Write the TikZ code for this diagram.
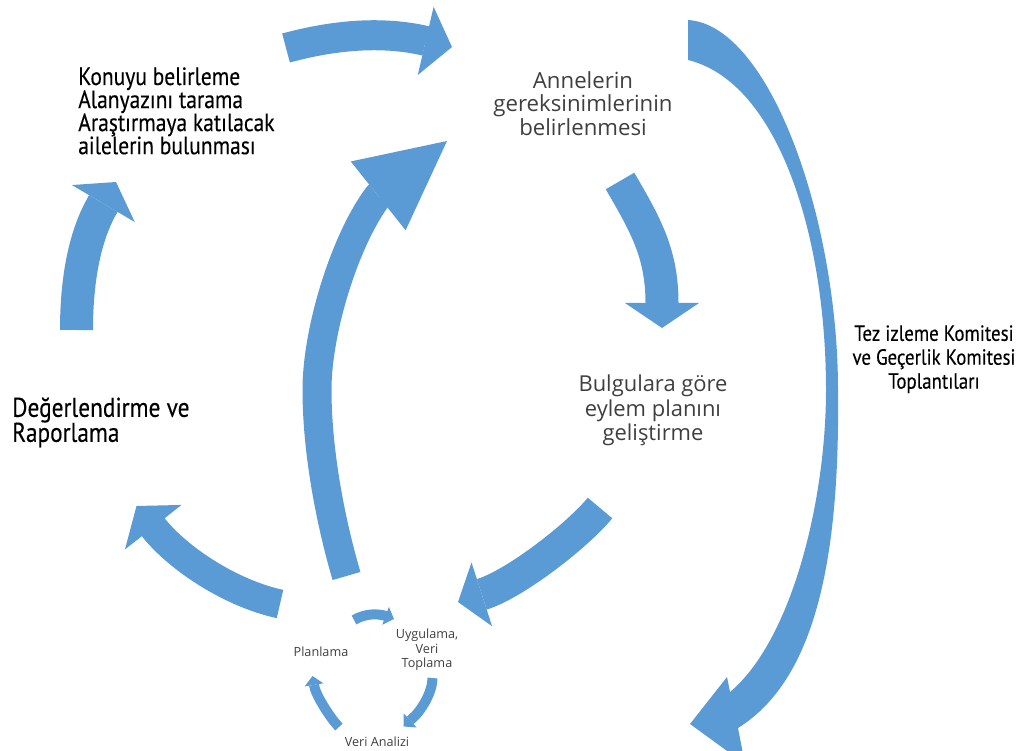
\documentclass[tikz,border=0pt]{standalone}
\usepackage{fontspec}
\setmainfont{Open Sans}
\newfontfamily\ptcond[FakeStretch=0.86,FakeBold=0.2]{PT Sans}
\usetikzlibrary{arrows.meta}

\definecolor{arrowblue}{HTML}{5B9BD5}
\definecolor{darkgray}{HTML}{3F3F3F}

\tikzset{
  blockarrow/.style n args={3}{draw=arrowblue, line width=#1, line join=round,
    -{Triangle[width=#2, length=#3, line width=0pt]}},
  smallarrow/.style={blockarrow={2.5mm}{4.75mm}{2.25mm}},
  blacktext/.style={font=\ptcond\fontsize{17.8pt}{16.4pt}\selectfont, text=black, inner sep=0pt, align=left},
  graytext/.style={font=\fontsize{15.8pt}{16.7pt}\selectfont, text=darkgray, inner sep=0pt, align=center},
  smalltext/.style={font=\fontsize{9pt}{10.3pt}\selectfont, text=darkgray, inner sep=0pt, align=center}
}

\begin{document}
\begin{tikzpicture}[x=0.25mm, y=-0.25mm]
\useasboundingbox (0,0) rectangle (1026,751);

% texts
\node[blacktext, anchor=north west] (konuyu) at (78,67) {Konuyu belirleme\\Alanyazını tarama\\Araştırmaya katılacak\\ailelerin bulunması};
\node[graytext, anchor=north] (anne) at (583,71) {Annelerin\\gereksinimlerinin\\belirlenmesi};
\node[graytext, font=\fontsize{15.6pt}{17.4pt}\selectfont, anchor=north] (bulgu) at (653,375) {Bulgulara göre\\eylem planını\\geliştirme};
\node[blacktext, font=\ptcond\fontsize{15.6pt}{17pt}\selectfont, align=center, anchor=north] (tez) at (934,325) {Tez izleme Komitesi\\ve Geçerlik Komitesi\\Toplantıları};
\node[blacktext, font=\ptcond\fontsize{19.3pt}{17.8pt}\selectfont, anchor=north west] (deger) at (12,397) {Değerlendirme ve\\Raporlama};
\node[smalltext] (plan) at (321,652) {Planlama};
\node[smalltext] (uyg) at (427,650) {Uygulama,\\Veri\\Toplama};
\node[smalltext] (analiz) at (377,742) {Veri Analizi};

% arrow ends
\coordinate (t1) at (286,48);    \coordinate (h1) at (452,47);
\coordinate (t3) at (620,181);   \coordinate (h3) at (662,328);
\coordinate (t4) at (600,508);   \coordinate (h4) at (458,602);
\coordinate (t5) at (280,604);   \coordinate (h5) at (136.5,506);
\coordinate (t6) at (76.5,330);  \coordinate (h6) at (116,182);
\coordinate (t7) at (346.5,576); \coordinate (h7) at (447,141);

% big cycle
\draw[blockarrow={7.5mm}{17.5mm}{6.75mm}] (t1) .. controls (334,35) and (382,30.7) .. (425.7,40.9) -- (h1);
\draw[blockarrow={8.25mm}{18.5mm}{6.25mm}] (t3) .. controls (645,224) and (662,253) .. (662,303) -- (h3);
\draw[blockarrow={8mm}{16.75mm}{6.25mm}] (t4) .. controls (578,535) and (515.6,583.7) .. (482.2,594.2) -- (h4);
\draw[blockarrow={7.25mm}{18mm}{6.75mm}] (t5) .. controls (231,593.5) and (178,558.6) .. (153.2,527.2) -- (h5);
\draw[blockarrow={8.25mm}{18.25mm}{6.25mm}] (t6) .. controls (76.5,285) and (83,238) .. (103.3,203.6) -- (h6);
\draw[blockarrow={7.25mm}{22mm}{22mm}] (t7) .. controls (330,520) and (317,450) .. (317,390)
  .. controls (317,330) and (345,240) .. (378,196) -- (h7);

% committee arrow
\fill[arrowblue] (688,20) .. controls (770,25) and (838,220) .. (838,390)
  .. controls (840,560) and (815,680) .. (738,728)
  -- (745,764) -- (690,724) -- (727,677) -- (730,692)
  .. controls (792,640) and (826,500) .. (826,390)
  .. controls (826,235) and (778,82) .. (688,60) -- cycle;

% small cycle
\draw[smallarrow] (354,620) .. controls (364,614) and (376,613) .. (386,616) -- (394,619);
\draw[smallarrow] (432.5,678) .. controls (432.5,692) and (421.5,710.4) .. (412.5,718.3) -- (403.5,726.5);
\draw[smallarrow] (339,727) .. controls (330.6,718.6) and (315.2,694.6) .. (314,685) -- (312.5,676);

\end{tikzpicture}
\end{document}
